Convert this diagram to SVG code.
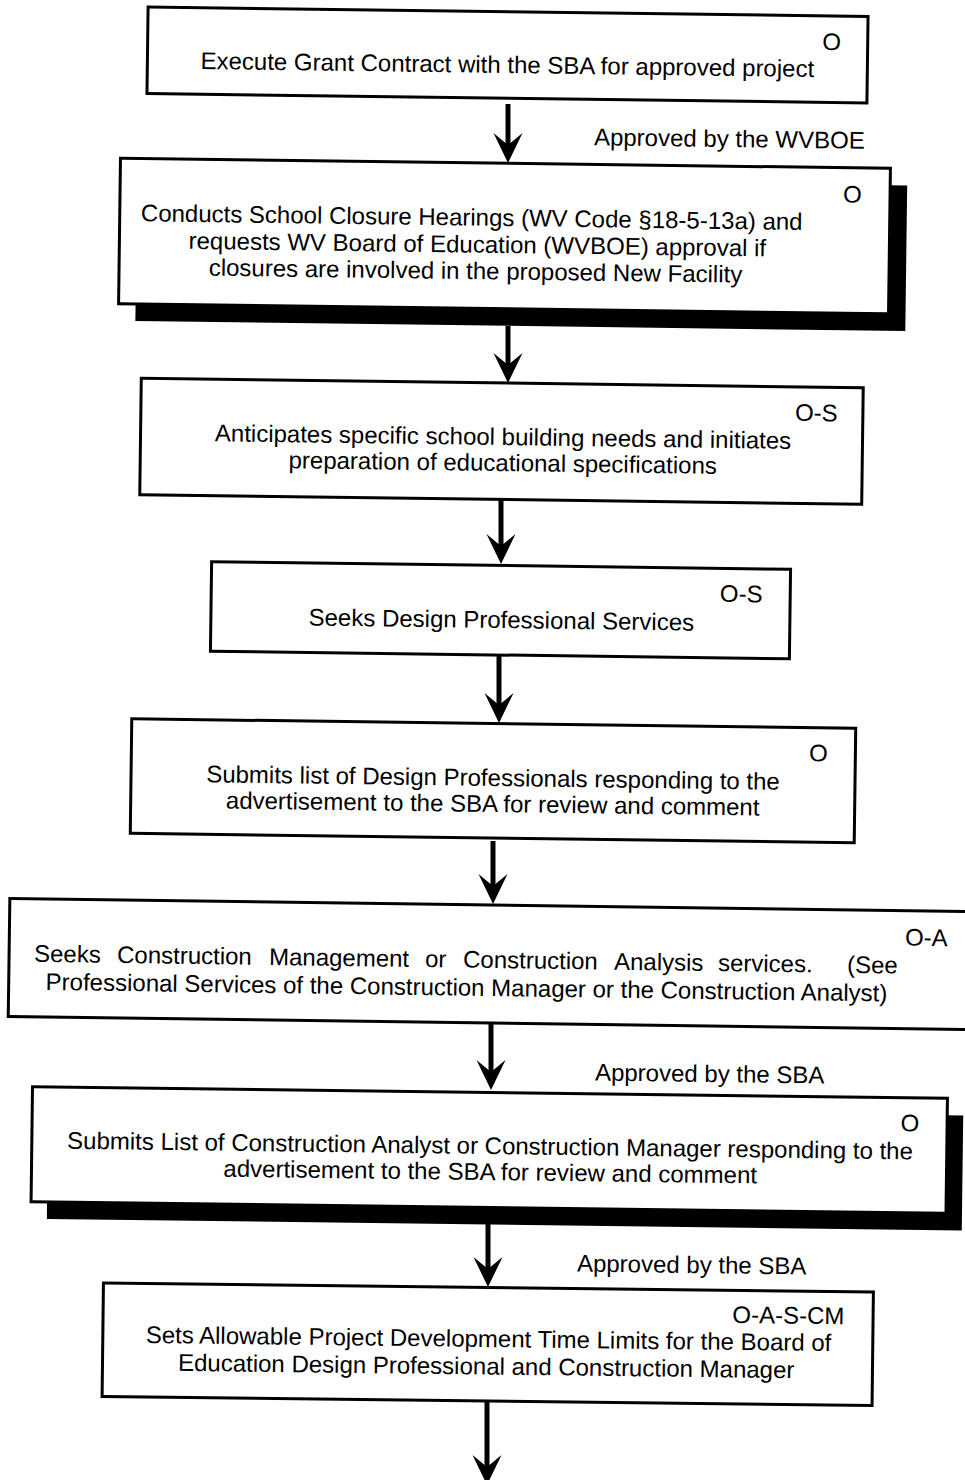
<svg xmlns="http://www.w3.org/2000/svg" width="965" height="1480" viewBox="0 0 965 1480">
<style>
.box{fill:#fff;stroke:#000;stroke-width:3}
.shadow{fill:#000}
.t{font-family:"Liberation Sans",Arial,sans-serif;font-size:24px;fill:#000}
.m{text-anchor:middle}
.conn{stroke:#000;stroke-width:5;fill:none}
</style>
<defs>
<marker id="ah" markerUnits="userSpaceOnUse" viewBox="-31 -15 32 30" markerWidth="32" markerHeight="30" refX="-15" refY="0" orient="auto">
<path d="M0,0 L-30,-14.5 L-18,0 L-30,14.5 Z" fill="#000"/>
</marker>
</defs>
<rect width="965" height="1480" fill="#fff"/>

<g id="connectors">
<line class="conn" x1="508" y1="104" x2="508" y2="148" marker-end="url(#ah)"/>
<line class="conn" x1="508" y1="326" x2="508" y2="368" marker-end="url(#ah)"/>
<line class="conn" x1="501" y1="500" x2="501" y2="549" marker-end="url(#ah)"/>
<line class="conn" x1="499" y1="656" x2="499" y2="708" marker-end="url(#ah)"/>
<line class="conn" x1="493" y1="841" x2="493" y2="889" marker-end="url(#ah)"/>
<line class="conn" x1="491" y1="1024" x2="491" y2="1075" marker-end="url(#ah)"/>
<line class="conn" x1="488" y1="1224" x2="488" y2="1272" marker-end="url(#ah)"/>
<line class="conn" x1="487" y1="1401" x2="487" y2="1470" marker-end="url(#ah)"/>
<text class="t" x="594" y="147" transform="rotate(0.75 728 140)">Approved by the WVBOE</text>
<text class="t" x="595" y="1082" transform="rotate(0.75 709 1075)">Approved by the SBA</text>
<text class="t" x="577" y="1273" transform="rotate(0.75 691 1266)">Approved by the SBA</text>
</g>

<g id="node1" transform="rotate(0.75 507.5 55)">
<rect class="box" x="147.5" y="11.75" width="720" height="86.5"/>
<text class="t m" x="507.5" y="73">Execute Grant Contract with the SBA for approved project</text>
<text class="t m" x="831.5" y="46">O</text>
</g>

<g id="node2" transform="rotate(0.75 504.5 236)">
<rect class="shadow" x="136.5" y="180.25" width="770" height="145.5"/>
<rect class="box" x="119.5" y="163.25" width="770" height="145.5"/>
<text class="t m"><tspan x="471.5" y="226">Conducts School Closure Hearings (WV Code §18-5-13a) and</tspan><tspan x="477.5" y="253">requests WV Board of Education (WVBOE) approval if</tspan><tspan x="476" y="279.5">closures are involved in the proposed New Facility</tspan></text>
<text class="t m" x="852" y="198">O</text>
</g>

<g id="node3" transform="rotate(0.75 501.5 441.25)">
<rect class="box" x="140.5" y="383" width="722" height="116.5"/>
<text class="t m"><tspan x="503" y="445">Anticipates specific school building needs and initiates</tspan><tspan x="503" y="471">preparation of educational specifications</tspan></text>
<text class="t m" x="816" y="417">O-S</text>
</g>

<g id="node4" transform="rotate(0.75 500.5 610.25)">
<rect class="box" x="211" y="565.5" width="579" height="89.5"/>
<text class="t m" x="501.5" y="628">Seeks Design Professional Services</text>
<text class="t m" x="741" y="599">O-S</text>
</g>

<g id="node5" transform="rotate(0.75 493 780.75)">
<rect class="box" x="131" y="723.5" width="724" height="114.5"/>
<text class="t m"><tspan x="493" y="786">Submits list of Design Professionals responding to the</tspan><tspan x="493" y="812">advertisement to the SBA for review and comment</tspan></text>
<text class="t m" x="818" y="757">O</text>
</g>

<g id="node6" transform="rotate(0.78 492 964)">
<rect class="box" x="9" y="905" width="990" height="118"/>
<text class="t"><tspan x="34" y="968">Seeks</tspan><tspan x="117" y="968">Construction</tspan><tspan x="269" y="968">Management</tspan><tspan x="425" y="968">or</tspan><tspan x="463" y="968">Construction</tspan><tspan x="614" y="968">Analysis</tspan><tspan x="718" y="968">services.</tspan><tspan x="847" y="968">(See</tspan><tspan x="46" y="996">Professional Services of the Construction Manager or the Construction Analyst)</tspan></text>
<text class="t m" x="926" y="940">O-A</text>
</g>

<g id="node7" transform="rotate(0.72 489.25 1150)">
<rect class="shadow" x="47.75" y="1109.5" width="915" height="115"/>
<rect class="box" x="31.75" y="1092.5" width="915" height="115"/>
<text class="t m"><tspan x="490" y="1154">Submits List of Construction Analyst or Construction Manager responding to the</tspan><tspan x="490.5" y="1180">advertisement to the SBA for review and comment</tspan></text>
<text class="t m" x="909.5" y="1126">O</text>
</g>

<g id="node8" transform="rotate(0.68 487.75 1344.25)">
<rect class="box" x="102.75" y="1287.5" width="770" height="113.5"/>
<text class="t m"><tspan x="488.5" y="1347">Sets Allowable Project Development Time Limits for the Board of</tspan><tspan x="486.5" y="1374.5">Education Design Professional and Construction Manager</tspan></text>
<text class="t m" x="788" y="1320">O-A-S-CM</text>
</g>
</svg>
